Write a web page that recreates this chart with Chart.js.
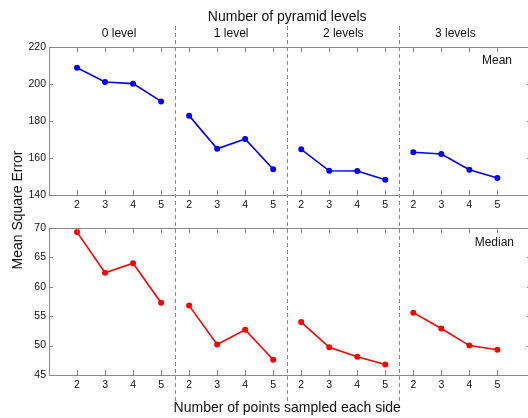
<!DOCTYPE html>
<html>
<head>
<meta charset="utf-8">
<script src="https://cdn.jsdelivr.net/npm/chart.js@4.4.0/dist/chart.umd.min.js"></script>
<style>
  html, body { margin: 0; padding: 0; background: #fff; overflow: hidden; }
  #wrap { position: relative; width: 528px; height: 418px; overflow: hidden; }
  #wrap canvas { position: absolute; left: 0; top: 0; }
</style>
</head>
<body>
<div id="wrap">
  <canvas id="meanChart" width="536" height="418"></canvas>
  <canvas id="medianChart" width="536" height="418"></canvas>
</div>
<script>
// data
const levels = ['0 level', '1 level', '2 levels', '3 levels'];
const pointsPerSide = [2, 3, 4, 5];
const meanValues = [
  [208.8, 201.1, 200.2, 190.6],
  [182.9, 165.0, 170.3, 153.9],
  [164.7, 153.1, 153.0, 148.3],
  [163.1, 162.2, 153.7, 149.2]
];
const medianValues = [
  [69.3, 62.4, 64.0, 57.3],
  [56.8, 50.2, 52.7, 47.6],
  [54.0, 49.7, 48.1, 46.8],
  [55.6, 52.9, 50.0, 49.3]
];
const meanTicks = [140, 160, 180, 200, 220];
const medianTicks = [45, 50, 55, 60, 65, 70];

const FONT = '"Liberation Sans", Arial, sans-serif';
const AXIS = '#8a8a8a';
const TEXT = '#111';
const n = pointsPerSide.length;

// x position of every sample: groups sit side by side on one linear axis
const xPositions = [];
levels.forEach((_, g) => pointsPerSide.forEach((_, i) => xPositions.push(g * n + i)));

function makeDatasets(values, color) {
  return values.map((row, g) => ({
    label: levels[g],
    data: row.map((v, i) => ({ x: g * n + i, y: v })),
    borderColor: color,
    backgroundColor: color,
    borderWidth: 1.6,
    pointRadius: 2.2,
    pointHoverRadius: 2.2,
    tension: 0
  }));
}

// MATLAB-like inward ticks plus top/right frame lines
const inwardTicks = {
  id: 'inwardTicks',
  afterDraw(chart) {
    const { ctx, chartArea: a, scales: { x, y } } = chart;
    ctx.save();
    ctx.strokeStyle = AXIS;
    ctx.lineWidth = 1;
    ctx.beginPath();
    x.ticks.forEach(t => {
      const px = Math.round(x.getPixelForValue(t.value)) + 0.5;
      ctx.moveTo(px, a.top); ctx.lineTo(px, a.top + 5);
      ctx.moveTo(px, a.bottom); ctx.lineTo(px, a.bottom - 5);
    });
    y.ticks.forEach(t => {
      const py = Math.round(y.getPixelForValue(t.value)) + 0.5;
      ctx.moveTo(a.left, py); ctx.lineTo(a.left + 4, py);
      ctx.moveTo(a.right, py); ctx.lineTo(a.right - 4, py);
    });
    const top = Math.round(a.top) + 0.5;
    ctx.moveTo(a.left, top); ctx.lineTo(a.right, top);
    ctx.moveTo(Math.round(a.right) + 0.5, a.top); ctx.lineTo(Math.round(a.right) + 0.5, a.bottom);
    ctx.stroke();
    ctx.restore();
  }
};

// panel label in the upper right ("Mean" / "Median")
const panelLabel = {
  id: 'panelLabel',
  afterDraw(chart, args, opts) {
    const { ctx } = chart;
    ctx.save();
    ctx.font = '12px ' + FONT;
    ctx.fillStyle = TEXT;
    ctx.textAlign = 'right';
    ctx.textBaseline = 'middle';
    ctx.fillText(opts.text, opts.x, opts.y);
    ctx.restore();
  }
};

// figure titles, level labels and dashed group separators
const figureDecor = {
  id: 'figureDecor',
  afterDraw(chart) {
    const { ctx, scales: { x } } = chart;
    ctx.save();
    ctx.strokeStyle = '#8a8a8a';
    ctx.lineWidth = 1;
    ctx.setLineDash([4, 3]);
    ctx.beginPath();
    for (let g = 1; g < levels.length; g++) {
      const px = Math.round(x.getPixelForValue(g * n - 0.5)) + 0.5;
      ctx.moveTo(px, 26); ctx.lineTo(px, 401);
    }
    ctx.stroke();
    ctx.setLineDash([]);

    const mid = x.getPixelForValue((levels.length * n - 1) / 2);
    ctx.fillStyle = TEXT;
    ctx.textAlign = 'center';
    ctx.textBaseline = 'alphabetic';
    ctx.font = '14px ' + FONT;
    ctx.fillText('Number of pyramid levels', mid, 21);
    ctx.fillText('Number of points sampled each side', mid, 412);

    ctx.font = '12px ' + FONT;
    levels.forEach((lab, g) => {
      ctx.fillText(lab, x.getPixelForValue(g * n + (n - 1) / 2), 37);
    });

    ctx.save();
    ctx.translate(18, 210);
    ctx.rotate(-Math.PI / 2);
    ctx.font = '14px ' + FONT;
    ctx.textBaseline = 'middle';
    ctx.fillText('Mean Square Error', 0, 0);
    ctx.restore();
    ctx.restore();
  }
};

function makeOptions(yTicks, padTop, padBottom, label) {
  return {
    responsive: false,
    animation: false,
    layout: { padding: { top: padTop, bottom: padBottom, left: 0, right: 5 } },
    plugins: {
      legend: { display: false },
      tooltip: { enabled: false },
      panelLabel: label
    },
    scales: {
      x: {
        type: 'linear',
        min: -1,
        max: 16.2,
        afterFit: s => { s.height = 20; },
        afterBuildTicks: s => { s.ticks = xPositions.map(v => ({ value: v })); },
        grid: { display: true, drawOnChartArea: false, drawTicks: false },
        border: { display: true, color: AXIS, width: 1 },
        ticks: {
          autoSkip: false,
          maxRotation: 0,
          padding: 4,
          color: TEXT,
          font: { family: FONT, size: 10.5 },
          callback: v => pointsPerSide[((v % n) + n) % n]
        }
      },
      y: {
        min: yTicks[0],
        max: yTicks[yTicks.length - 1],
        afterFit: s => { s.width = 49; },
        afterBuildTicks: s => { s.ticks = yTicks.map(v => ({ value: v })); },
        grid: { display: true, drawOnChartArea: false, drawTicks: false },
        border: { display: true, color: AXIS, width: 1 },
        ticks: {
          padding: 3,
          color: TEXT,
          font: { family: FONT, size: 10.5 }
        }
      }
    }
  };
}

new Chart(document.getElementById('meanChart'), {
  type: 'line',
  data: { datasets: makeDatasets(meanValues, '#0000ff') },
  options: makeOptions(meanTicks, 47, 418 - 195 - 20, { text: 'Mean', x: 512, y: 61 }),
  plugins: [inwardTicks, panelLabel, figureDecor]
});

new Chart(document.getElementById('medianChart'), {
  type: 'line',
  data: { datasets: makeDatasets(medianValues, '#ff0000') },
  options: makeOptions(medianTicks, 228, 418 - 375 - 20, { text: 'Median', x: 514, y: 243 }),
  plugins: [inwardTicks, panelLabel]
});
</script>
</body>
</html>
